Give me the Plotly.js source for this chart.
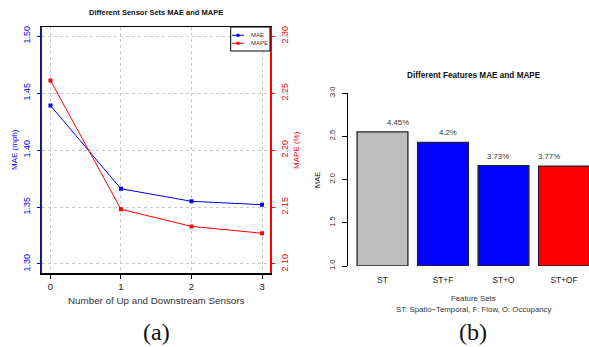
<!DOCTYPE html>
<html><head><meta charset="utf-8">
<script src="https://cdn.plot.ly/plotly-3.0.1.min.js"></script>
<style>html,body{margin:0;padding:0;background:#fff}#c{width:589px;height:347px}</style>
</head><body><div id="c"></div>
<script>
// ---- data ----
const sensorCounts = [0, 1, 2, 3];
const maeSensors = [1.439, 1.366, 1.355, 1.352];
const mapeSensors = [2.261, 2.148, 2.133, 2.127];
const featureSets = ['ST', 'ST+F', 'ST+O', 'ST+OF'];
const maeFeatures = [2.55, 2.43, 2.16, 2.155];
const mapeFeatureLabels = ['4.45%', '4.2%', '3.73%', '3.77%'];
const featureColors = ['#bebebe', '#0000ff', '#0000ff', '#ff0000'];
const maeTicks = [1.30, 1.35, 1.40, 1.45, 1.50];
const mapeTicks = [2.10, 2.15, 2.20, 2.25, 2.30];
const barTicks = [1.0, 1.5, 2.0, 2.5, 3.0];

// ---- helpers ----
const W = 589, H = 347;
const px = x => x / W, py = y => 1 - y / H;
const F = 'Liberation Sans, Arial, Helvetica, sans-serif';
const SERIF = 'Liberation Serif, DejaVu Serif, serif';

const traces = [
  {type:'scatter', mode:'lines+markers', name:'MAE', x:sensorCounts, y:maeSensors,
   xaxis:'x', yaxis:'y', line:{color:'#0000ff', width:1}, marker:{symbol:'square', size:4, color:'#0000ff'}},
  {type:'scatter', mode:'lines+markers', name:'MAPE', x:sensorCounts, y:mapeSensors,
   xaxis:'x', yaxis:'y2', line:{color:'#ff0000', width:1}, marker:{symbol:'square', size:4, color:'#ff0000'}},
  {type:'bar', name:'MAE', x:featureSets, y:maeFeatures.map(v => v - 1), base:1,
   xaxis:'x3', yaxis:'y3', width:0.84,
   marker:{color:featureColors, line:{color:'#222', width:1.3}}}
];

const annotations = [
  {text:'<b>Different Sensor Sets MAE and MAPE</b>', x:px(156), y:py(12), font:{size:7.5, color:'#111'}},
  {text:'MAE (mph)', textangle:-90, x:px(14), y:py(150), font:{size:8, color:'#0000ff'}},
  {text:'MAPE (%)', textangle:-90, x:px(296), y:py(150), font:{size:8, color:'#ff0000'}},
  {text:'Number of Up and Downstream Sensors', x:px(156), y:py(300), font:{size:9.8, color:'#333'}},
  {text:'(a)', x:px(156), y:py(332), font:{size:24, family:SERIF, color:'#111'}},
  {text:'<b>Different Features MAE and MAPE</b>', x:px(474), y:py(75), font:{size:8.2, color:'#111'}},
  {text:'MAE', textangle:-90, x:px(317), y:py(180), font:{size:7.5, color:'#222'}},
  {text:'Feature Sets', x:px(473), y:py(298), font:{size:7.8, color:'#333'}},
  {text:'ST: Spatio\u2212Temporal, F: Flow, O: Occupancy', x:px(473), y:py(309), font:{size:7.8, color:'#333'}},
  {text:'(b)', x:px(473), y:py(332), font:{size:24, family:SERIF, color:'#111'}},
  {text:'MAE', x:px(249), y:py(35.3), xanchor:'left', font:{size:6, color:'#333'}},
  {text:'MAPE', x:px(249), y:py(43.3), xanchor:'left', font:{size:6, color:'#333'}}
].map(a => Object.assign({xref:'paper', yref:'paper', showarrow:false, xanchor:'center', yanchor:'middle'}, a));

mapeFeatureLabels.forEach((t, i) => {
  annotations.push({text:t, xref:'x3', yref:'y3', x:i * 0.83 + 0.256, y:maeFeatures[i],
    xanchor:'center', yanchor:'bottom', yshift:3, showarrow:false, font:{size:7.8, color:'#333'}});
});

const shapes = [
  {type:'rect', xref:'paper', yref:'paper', x0:px(230.7), x1:px(270), y0:py(51), y1:py(27),
   line:{color:'#000', width:1}, fillcolor:'#fff', layer:'above'},
  {type:'line', xref:'paper', yref:'paper', x0:px(232), x1:px(244), y0:py(35.3), y1:py(35.3), line:{color:'#0000ff', width:1}, layer:'above'},
  {type:'line', xref:'paper', yref:'paper', x0:px(232), x1:px(244), y0:py(43.3), y1:py(43.3), line:{color:'#ff0000', width:1}, layer:'above'},
  {type:'rect', xref:'paper', yref:'paper', x0:px(236.5), x1:px(239.5), y0:py(36.8), y1:py(33.8), line:{width:0}, fillcolor:'#0000ff', layer:'above'},
  {type:'rect', xref:'paper', yref:'paper', x0:px(236.5), x1:px(239.5), y0:py(44.8), y1:py(41.8), line:{width:0}, fillcolor:'#ff0000', layer:'above'}
];

const grid = {showgrid:true, gridcolor:'#c8c8c8', griddash:'dot', gridwidth:1, zeroline:false};

const layout = {
  width:W, height:H, margin:{l:0, r:0, t:0, b:0},
  paper_bgcolor:'#fff', plot_bgcolor:'#fff', showlegend:false,
  font:{family:F, color:'#222'},
  xaxis:Object.assign({}, grid, {domain:[px(41.5), px(270)], range:[-0.127, 3.113], anchor:'y',
    tickvals:sensorCounts, ticks:'outside', ticklen:4, tickcolor:'#000',
    showline:true, linecolor:'#000', linewidth:1.5, mirror:true,
    tickfont:{size:9.5, color:'#222'}}),
  yaxis:Object.assign({}, grid, {domain:[py(273), py(27)], range:[1.2921, 1.5079], anchor:'x',
    tickvals:maeTicks, tickformat:'.2f', tickangle:-90, ticks:'outside', ticklen:3, tickcolor:'#0000ff',
    showline:true, linecolor:'#1a1a80', linewidth:2, tickfont:{size:9, color:'#0000ff'}, ticklabelstandoff:3}),
  yaxis2:{overlaying:'y', side:'right', anchor:'x', range:[2.0921, 2.3079], showgrid:false, zeroline:false,
    tickvals:mapeTicks, tickformat:'.2f', tickangle:-90, ticks:'outside', ticklen:3, tickcolor:'#ff0000',
    showline:true, linecolor:'#ff0000', linewidth:1.5, tickfont:{size:9, color:'#ff0000'}, ticklabelstandoff:3},
  xaxis3:{domain:[px(348), 1], range:[-0.57, 3.413], anchor:'y3', showgrid:false, zeroline:false,
    showline:false, ticks:'', tickfont:{size:8.3, color:'#222'}, ticklabelstandoff:8},
  yaxis3:{domain:[py(266), py(93)], range:[1, 3], anchor:'x3', showgrid:false, zeroline:false,
    tickvals:barTicks, tickformat:'.1f', tickangle:-90, ticks:'outside', ticklen:5, tickcolor:'#000',
    showline:true, linecolor:'#000', linewidth:1, tickfont:{size:7.5, color:'#222'}, ticklabelstandoff:4},
  annotations:annotations,
  shapes:shapes
};

Plotly.newPlot('c', traces, layout, {displayModeBar:false, staticPlot:true});
</script>
</body></html>
